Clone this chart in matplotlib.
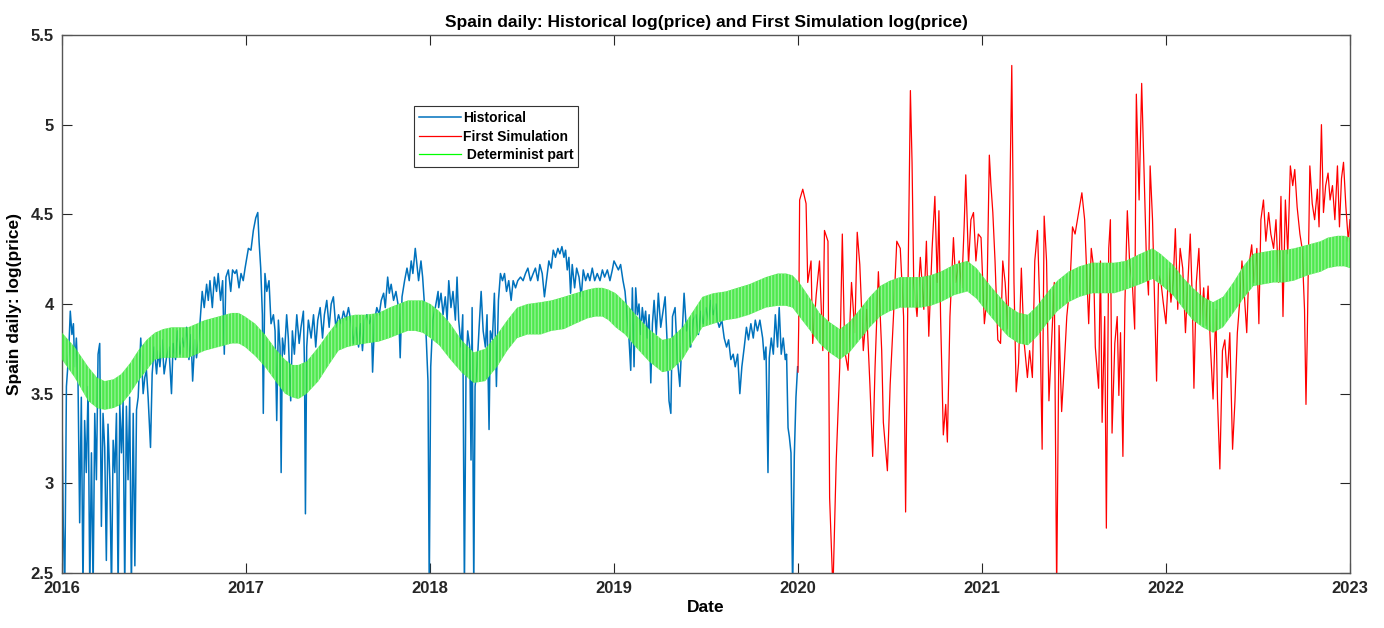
import matplotlib
matplotlib.use("Agg")
import matplotlib.pyplot as plt

plt.rcParams['font.family'] = ['Liberation Sans', 'DejaVu Sans']
plt.rcParams['font.weight'] = 'bold'
plt.rcParams['hatch.color'] = '#a8f5a8'
plt.rcParams['hatch.linewidth'] = 0.7

# Historical log(price) (decimal years)
hist_year = [
    2016.000, 2016.007, 2016.015, 2016.024, 2016.036, 2016.045, 2016.054, 2016.062, 2016.069, 2016.078,
    2016.087, 2016.096, 2016.105, 2016.114, 2016.123, 2016.132, 2016.142, 2016.151, 2016.160, 2016.169,
    2016.178, 2016.187, 2016.196, 2016.205, 2016.214, 2016.223, 2016.232, 2016.241, 2016.250, 2016.260,
    2016.269, 2016.278, 2016.287, 2016.296, 2016.305, 2016.314, 2016.323, 2016.332, 2016.341, 2016.350,
    2016.359, 2016.368, 2016.377, 2016.387, 2016.396, 2016.405, 2016.414, 2016.428, 2016.441, 2016.450,
    2016.459, 2016.468, 2016.481, 2016.490, 2016.501, 2016.514, 2016.523, 2016.532, 2016.544, 2016.555,
    2016.568, 2016.581, 2016.595, 2016.604, 2016.617, 2016.628, 2016.641, 2016.653, 2016.664, 2016.677,
    2016.690, 2016.701, 2016.710, 2016.722, 2016.731, 2016.744, 2016.753, 2016.762, 2016.773, 2016.786,
    2016.795, 2016.804, 2016.817, 2016.828, 2016.840, 2016.849, 2016.862, 2016.873, 2016.882, 2016.891,
    2016.904, 2016.917, 2016.927, 2016.940, 2016.949, 2016.962, 2016.973, 2016.985, 2016.995,
    2017.013, 2017.027, 2017.040, 2017.053, 2017.064, 2017.071, 2017.080, 2017.089, 2017.094, 2017.103,
    2017.113, 2017.125, 2017.136, 2017.149, 2017.158, 2017.167, 2017.176, 2017.185, 2017.191, 2017.198,
    2017.209, 2017.221, 2017.230, 2017.243, 2017.252, 2017.263, 2017.276, 2017.289, 2017.299, 2017.312,
    2017.318, 2017.323, 2017.330, 2017.339, 2017.354, 2017.367, 2017.379, 2017.390, 2017.403, 2017.416,
    2017.426, 2017.439, 2017.452, 2017.463, 2017.475, 2017.488, 2017.503, 2017.517, 2017.530, 2017.543,
    2017.557, 2017.572, 2017.584, 2017.597, 2017.612, 2017.623, 2017.633, 2017.644, 2017.657, 2017.670,
    2017.681, 2017.688, 2017.699, 2017.711, 2017.724, 2017.735, 2017.748, 2017.757, 2017.770, 2017.779,
    2017.789, 2017.802, 2017.815, 2017.829, 2017.838, 2017.848, 2017.862, 2017.875, 2017.887, 2017.898,
    2017.907, 2017.920, 2017.929, 2017.938, 2017.951, 2017.960, 2017.971, 2017.980, 2017.989, 2017.996,
    2018.004, 2018.015, 2018.029, 2018.044, 2018.047, 2018.060, 2018.071, 2018.083, 2018.093, 2018.102,
    2018.114, 2018.125, 2018.138, 2018.147, 2018.156, 2018.169, 2018.178, 2018.187, 2018.196, 2018.205,
    2018.216, 2018.223, 2018.229, 2018.238, 2018.245, 2018.256, 2018.267, 2018.278, 2018.289, 2018.301,
    2018.310, 2018.321, 2018.328, 2018.339, 2018.350, 2018.361, 2018.372, 2018.383, 2018.394, 2018.405,
    2018.416, 2018.428, 2018.441, 2018.452, 2018.465, 2018.477, 2018.492, 2018.506, 2018.519, 2018.532,
    2018.546, 2018.561, 2018.573, 2018.586, 2018.597, 2018.610, 2018.622, 2018.633, 2018.646, 2018.659,
    2018.670, 2018.682, 2018.695, 2018.706, 2018.717, 2018.728, 2018.737, 2018.746, 2018.755, 2018.764,
    2018.773, 2018.786, 2018.797, 2018.810, 2018.822, 2018.833, 2018.846, 2018.858, 2018.869, 2018.882,
    2018.895, 2018.909, 2018.924, 2018.937, 2018.949, 2018.964, 2018.978, 2018.991, 2019.000,
    2019.024, 2019.036, 2019.049, 2019.060, 2019.073, 2019.082, 2019.091, 2019.100, 2019.109, 2019.118,
    2019.127, 2019.136, 2019.145, 2019.154, 2019.163, 2019.172, 2019.181, 2019.191, 2019.200, 2019.209,
    2019.218, 2019.230, 2019.241, 2019.254, 2019.267, 2019.278, 2019.290, 2019.299, 2019.309, 2019.318,
    2019.332, 2019.345, 2019.358, 2019.369, 2019.381, 2019.394, 2019.405, 2019.417, 2019.430, 2019.445,
    2019.459, 2019.472, 2019.485, 2019.499, 2019.514, 2019.526, 2019.539, 2019.554, 2019.562, 2019.572,
    2019.586, 2019.599, 2019.612, 2019.623, 2019.635, 2019.648, 2019.659, 2019.672, 2019.684, 2019.695,
    2019.708, 2019.720, 2019.731, 2019.744, 2019.757, 2019.768, 2019.780, 2019.793, 2019.808, 2019.817,
    2019.826, 2019.837, 2019.844, 2019.855, 2019.866, 2019.877, 2019.889, 2019.898, 2019.909, 2019.920,
    2019.931, 2019.938, 2019.946, 2019.953, 2019.962, 2019.971, 2019.980, 2019.989, 2019.998,
]
hist_logp = [
    3.41, 2.76, 2.40, 3.54, 3.72, 3.96, 3.83, 3.89, 3.65, 3.81,
    3.57, 2.78, 3.48, 2.40, 3.35, 3.06, 3.54, 2.40, 3.17, 2.40,
    3.39, 3.02, 3.72, 3.78, 2.76, 3.39, 3.20, 2.57, 3.33, 3.02,
    2.40, 3.24, 3.06, 3.39, 2.40, 3.44, 3.17, 3.46, 2.40, 3.43,
    3.02, 3.48, 2.40, 3.39, 2.54, 3.41, 3.48, 3.81, 3.50, 3.59,
    3.63, 3.48, 3.20, 3.61, 3.76, 3.61, 3.74, 3.65, 3.80, 3.61,
    3.70, 3.76, 3.50, 3.78, 3.69, 3.85, 3.72, 3.81, 3.76, 3.87,
    3.69, 3.83, 3.57, 3.80, 3.70, 3.81, 3.94, 4.07, 3.98, 4.11,
    4.02, 4.13, 3.98, 4.15, 4.07, 4.17, 4.02, 4.13, 3.72, 4.15,
    4.19, 4.07, 4.19, 4.17, 4.19, 4.09, 4.17, 4.13, 4.20,
    4.31, 4.30, 4.41, 4.48, 4.51, 4.35, 4.20, 3.94, 3.39, 4.17,
    4.07, 4.13, 3.89, 3.94, 3.85, 3.35, 3.91, 3.76, 3.06, 3.81,
    3.72, 3.94, 3.81, 3.46, 3.85, 3.72, 3.94, 3.78, 3.87, 3.96,
    3.65, 2.83, 3.76, 3.91, 3.81, 3.94, 3.76, 3.91, 3.98, 3.81,
    3.94, 4.02, 3.87, 4.00, 4.04, 3.87, 3.94, 3.89, 3.96, 3.91,
    3.98, 3.89, 3.78, 3.87, 3.76, 3.89, 3.74, 3.91, 3.94, 3.89,
    3.93, 3.62, 3.91, 3.98, 3.94, 4.02, 4.06, 3.98, 4.15, 4.06,
    4.11, 4.02, 4.07, 3.98, 3.70, 4.04, 4.13, 4.20, 4.13, 4.24,
    4.17, 4.31, 4.22, 4.13, 4.24, 4.15, 3.98, 3.80, 3.57, 2.40,
    3.65, 3.91, 3.98, 4.07, 3.98, 4.06, 3.94, 4.04, 3.91, 4.13,
    3.98, 4.07, 3.91, 4.15, 3.91, 3.76, 3.94, 2.40, 3.65, 3.85,
    3.76, 3.13, 3.98, 2.40, 3.54, 3.65, 3.87, 4.07, 3.85, 3.76,
    3.94, 3.30, 3.85, 3.80, 4.06, 3.54, 4.02, 4.17, 4.13, 4.17,
    4.07, 4.13, 4.02, 4.13, 4.09, 4.13, 4.15, 4.13, 4.17, 4.20,
    4.13, 4.17, 4.20, 4.13, 4.22, 4.17, 4.04, 4.13, 4.24, 4.20,
    4.30, 4.26, 4.31, 4.28, 4.32, 4.26, 4.30, 4.19, 4.26, 4.06,
    4.22, 4.09, 4.20, 4.15, 4.04, 4.19, 4.13, 4.17, 4.13, 4.20,
    4.13, 4.17, 4.13, 4.19, 4.15, 4.19, 4.13, 4.19, 4.24,
    4.19, 4.22, 4.13, 4.07, 3.91, 3.80, 3.63, 4.09, 3.65, 4.09,
    3.94, 4.00, 3.83, 3.98, 3.89, 3.96, 3.81, 3.94, 3.56, 3.89,
    4.02, 3.83, 4.06, 3.87, 3.96, 4.04, 3.76, 3.46, 3.39, 3.93,
    3.98, 3.69, 3.54, 3.80, 4.06, 3.85, 3.91, 3.76, 3.91, 3.94,
    3.83, 3.96, 3.89, 3.98, 3.91, 4.02, 3.94, 4.00, 3.91, 3.87,
    3.91, 3.81, 3.76, 3.80, 3.69, 3.72, 3.65, 3.72, 3.50, 3.65,
    3.76, 3.87, 3.80, 3.89, 3.81, 3.91, 3.85, 3.91, 3.81, 3.69,
    3.76, 3.06, 3.70, 3.81, 3.72, 3.94, 3.76, 3.98, 3.72, 3.81,
    3.69, 3.72, 3.31, 3.26, 3.17, 2.40, 3.15, 3.48, 3.65,
]

# First simulation log(price)
sim_year = [
    2020.000, 2020.004, 2020.009, 2020.026, 2020.044, 2020.053, 2020.071, 2020.080, 2020.099, 2020.117,
    2020.135, 2020.144, 2020.163, 2020.172, 2020.190, 2020.208, 2020.227, 2020.241, 2020.254, 2020.272,
    2020.291, 2020.309, 2020.322, 2020.336, 2020.355, 2020.373, 2020.391, 2020.406, 2020.419, 2020.437,
    2020.455, 2020.464, 2020.486, 2020.501, 2020.519, 2020.537, 2020.556, 2020.574, 2020.585, 2020.596,
    2020.611, 2020.620, 2020.629, 2020.647, 2020.665, 2020.684, 2020.698, 2020.711, 2020.729, 2020.744,
    2020.757, 2020.766, 2020.775, 2020.790, 2020.803, 2020.812, 2020.826, 2020.845, 2020.857, 2020.876,
    2020.890, 2020.903, 2020.912, 2020.927, 2020.940, 2020.954, 2020.967, 2020.980, 2020.995, 2021.013,
    2021.027, 2021.040, 2021.049, 2021.059, 2021.071, 2021.086, 2021.101, 2021.113, 2021.126, 2021.141,
    2021.162, 2021.174, 2021.186, 2021.199, 2021.214, 2021.228, 2021.247, 2021.259, 2021.274, 2021.287,
    2021.302, 2021.314, 2021.327, 2021.338, 2021.351, 2021.364, 2021.378, 2021.393, 2021.406, 2021.419,
    2021.433, 2021.448, 2021.461, 2021.479, 2021.492, 2021.506, 2021.525, 2021.543, 2021.558,
    2021.580, 2021.594, 2021.607, 2021.616, 2021.634, 2021.644, 2021.653, 2021.667, 2021.676, 2021.689,
    2021.698, 2021.707, 2021.722, 2021.735, 2021.744, 2021.753, 2021.766, 2021.777, 2021.790, 2021.803,
    2021.817, 2021.830, 2021.839, 2021.854, 2021.868, 2021.881, 2021.894, 2021.905, 2021.914, 2021.927,
    2021.938, 2021.949, 2021.960, 2021.973, 2021.985, 2022.000, 2022.015, 2022.027, 2022.040, 2022.051,
    2022.064, 2022.077, 2022.091, 2022.106, 2022.119, 2022.132, 2022.143, 2022.152, 2022.165, 2022.179,
    2022.192, 2022.205, 2022.216, 2022.229, 2022.241, 2022.256, 2022.271, 2022.280, 2022.293, 2022.307,
    2022.320, 2022.333, 2022.347, 2022.362, 2022.375, 2022.388, 2022.402, 2022.413, 2022.426, 2022.439,
    2022.452, 2022.466, 2022.479, 2022.494, 2022.505, 2022.516, 2022.530, 2022.543, 2022.558, 2022.570,
    2022.585, 2022.598, 2022.612, 2022.625, 2022.636, 2022.649, 2022.662, 2022.676, 2022.689, 2022.700,
    2022.713, 2022.728, 2022.740, 2022.753, 2022.761, 2022.768, 2022.782, 2022.795, 2022.808, 2022.823,
    2022.832, 2022.845, 2022.856, 2022.868, 2022.881, 2022.892, 2022.905, 2022.918, 2022.932, 2022.943,
    2022.954, 2022.965, 2022.978, 2022.991, 2023.000,
]
sim_logp = [
    3.62, 3.88, 4.58, 4.64, 4.56, 4.12, 4.24, 3.78, 4.05, 4.24,
    3.74, 4.41, 4.35, 2.92, 2.40, 3.13, 3.65, 4.39, 3.74, 3.63,
    4.12, 3.84, 4.40, 4.22, 3.74, 3.97, 3.55, 3.15, 3.65, 4.18,
    3.74, 3.34, 3.07, 3.55, 3.93, 4.35, 4.31, 3.93, 2.84, 3.93,
    5.19, 4.79, 4.12, 3.93, 4.26, 3.97, 4.35, 3.82, 4.31, 4.60,
    4.12, 4.52, 3.93, 3.27, 3.44, 3.23, 3.93, 4.37, 4.12, 4.24,
    4.09, 4.43, 4.72, 4.22, 4.47, 4.51, 4.24, 4.39, 4.37, 3.89,
    4.03, 4.83, 4.66, 4.51, 4.24, 3.80, 3.78, 4.24, 4.12, 3.86,
    5.33, 4.12, 3.51, 3.67, 4.20, 3.80, 3.59, 3.74, 3.59, 4.24,
    4.41, 3.99, 3.19, 4.49, 4.24, 3.46, 3.78, 4.12, 2.40, 3.88,
    3.40, 3.67, 3.93, 4.12, 4.43, 4.39, 4.51, 4.62, 4.47,
    3.89, 4.31, 4.20, 3.76, 3.53, 4.24, 3.34, 3.93, 2.75, 4.31,
    4.47, 3.28, 3.78, 3.93, 3.49, 3.84, 3.15, 4.01, 4.52, 4.22,
    4.12, 3.86, 5.17, 4.58, 5.23, 4.74, 4.24, 4.05, 4.77, 4.47,
    4.01, 3.57, 4.16, 4.12, 4.01, 3.89, 4.20, 4.01, 4.14, 4.42,
    3.97, 4.31, 4.20, 3.84, 4.12, 4.39, 4.03, 3.53, 4.12, 4.31,
    3.89, 4.09, 3.88, 4.10, 3.78, 3.47, 3.97, 3.47, 3.08, 3.74,
    3.80, 3.59, 3.84, 3.19, 3.46, 3.84, 4.03, 4.24, 4.05, 3.84,
    4.22, 4.33, 4.12, 4.31, 3.89, 4.47, 4.58, 4.35, 4.51, 4.39,
    4.31, 4.47, 4.12, 4.60, 3.93, 4.58, 4.28, 4.77, 4.66, 4.75,
    4.54, 4.39, 4.31, 3.97, 3.44, 3.82, 4.77, 4.56, 4.47, 4.64,
    4.43, 5.00, 4.51, 4.66, 4.73, 4.58, 4.66, 4.47, 4.77, 4.43,
    4.70, 4.79, 4.54, 4.35, 4.47,
]

# Determinist part: upper and lower edge of the weekly band
det_year = [
    2016.000, 2016.069, 2016.142, 2016.190, 2016.232, 2016.280, 2016.323, 2016.370, 2016.414, 2016.460,
    2016.505, 2016.550, 2016.595, 2016.686, 2016.777, 2016.850, 2016.922, 2016.960, 2016.995, 2017.050,
    2017.103, 2017.160, 2017.212, 2017.250, 2017.285, 2017.330, 2017.394, 2017.450, 2017.503, 2017.550,
    2017.593, 2017.650, 2017.721, 2017.780, 2017.829, 2017.880, 2017.920, 2017.960, 2018.002, 2018.050,
    2018.111, 2018.170, 2018.238, 2018.300, 2018.365, 2018.420, 2018.474, 2018.530, 2018.601, 2018.660,
    2018.728, 2018.790, 2018.856, 2018.900, 2018.937, 2018.970, 2019.009, 2019.060, 2019.118, 2019.190,
    2019.263, 2019.310, 2019.372, 2019.430, 2019.481, 2019.540, 2019.608, 2019.670, 2019.735, 2019.780,
    2019.826, 2019.890, 2019.935, 2019.970, 2020.007, 2020.060, 2020.117, 2020.170, 2020.227, 2020.280,
    2020.336, 2020.390, 2020.446, 2020.500, 2020.556, 2020.610, 2020.665, 2020.720, 2020.775, 2020.850,
    2020.921, 2020.970, 2021.031, 2021.080, 2021.141, 2021.200, 2021.250, 2021.300, 2021.360, 2021.410,
    2021.470, 2021.530, 2021.598, 2021.671, 2021.720, 2021.781, 2021.860, 2021.927, 2021.970, 2022.037,
    2022.090, 2022.146, 2022.200, 2022.256, 2022.310, 2022.366, 2022.420, 2022.475, 2022.530, 2022.585,
    2022.640, 2022.695, 2022.770, 2022.841, 2022.880, 2022.932, 2022.970, 2023.000,
]
det_upper = [
    3.84, 3.76, 3.65, 3.59, 3.57, 3.58, 3.61, 3.67, 3.74, 3.80,
    3.84, 3.86, 3.87, 3.87, 3.91, 3.93, 3.95, 3.95, 3.93, 3.89,
    3.83, 3.75, 3.69, 3.66, 3.66, 3.68, 3.76, 3.84, 3.91, 3.93,
    3.94, 3.94, 3.95, 3.98, 4.00, 4.02, 4.02, 4.02, 4.00, 3.96,
    3.89, 3.80, 3.73, 3.75, 3.83, 3.91, 3.98, 4.00, 4.01, 4.02,
    4.04, 4.06, 4.08, 4.09, 4.09, 4.08, 4.06, 4.01, 3.94, 3.86,
    3.80, 3.81, 3.87, 3.96, 4.04, 4.06, 4.07, 4.09, 4.11, 4.13,
    4.15, 4.17, 4.17, 4.16, 4.12, 4.04, 3.95, 3.90, 3.86, 3.90,
    3.97, 4.04, 4.10, 4.13, 4.15, 4.15, 4.15, 4.16, 4.18, 4.22,
    4.24, 4.20, 4.12, 4.06, 3.99, 3.95, 3.94, 3.99, 4.07, 4.13,
    4.18, 4.21, 4.23, 4.23, 4.23, 4.24, 4.28, 4.31, 4.28, 4.22,
    4.15, 4.09, 4.04, 4.01, 4.04, 4.12, 4.21, 4.28, 4.29, 4.30,
    4.30, 4.31, 4.33, 4.35, 4.37, 4.38, 4.38, 4.37,
]
det_lower = [
    3.69, 3.59, 3.46, 3.42, 3.41, 3.42, 3.44, 3.50, 3.57, 3.63,
    3.69, 3.70, 3.70, 3.70, 3.74, 3.76, 3.78, 3.78, 3.76, 3.71,
    3.65, 3.57, 3.50, 3.48, 3.47, 3.50, 3.57, 3.66, 3.74, 3.76,
    3.77, 3.78, 3.79, 3.81, 3.83, 3.85, 3.85, 3.84, 3.81, 3.77,
    3.69, 3.62, 3.56, 3.57, 3.65, 3.74, 3.81, 3.83, 3.83, 3.85,
    3.86, 3.89, 3.92, 3.93, 3.93, 3.91, 3.87, 3.83, 3.76, 3.68,
    3.62, 3.63, 3.69, 3.79, 3.87, 3.89, 3.91, 3.92, 3.94, 3.96,
    3.98, 3.99, 3.99, 3.98, 3.93, 3.86, 3.78, 3.73, 3.69, 3.73,
    3.80, 3.87, 3.93, 3.96, 3.98, 3.98, 3.98, 3.99, 4.01, 4.05,
    4.07, 4.03, 3.95, 3.89, 3.82, 3.78, 3.77, 3.82, 3.90, 3.96,
    4.01, 4.04, 4.06, 4.06, 4.06, 4.08, 4.11, 4.14, 4.11, 4.05,
    3.98, 3.91, 3.87, 3.84, 3.87, 3.95, 4.03, 4.10, 4.11, 4.12,
    4.12, 4.13, 4.16, 4.18, 4.20, 4.21, 4.21, 4.20,
]

year_ticks = [2016, 2017, 2018, 2019, 2020, 2021, 2022, 2023]
logp_ticks = [2.5, 3, 3.5, 4, 4.5, 5, 5.5]
logp_tick_labels = ['2.5', '3', '3.5', '4', '4.5', '5', '5.5']

fig = plt.figure(figsize=(13.84, 6.28), dpi=100)
ax = fig.add_axes([0.0448, 0.0876, 0.9306, 0.8567])

ax.plot(hist_year, hist_logp, color='#0072BD', lw=1.1, label='Historical', zorder=2)
ax.plot(sim_year, sim_logp, color='#FF0000', lw=0.9, label='First Simulation', zorder=2)
ax.fill_between(det_year, det_lower, det_upper, facecolor='#2fe62f', hatch='|||||',
                linewidth=0, alpha=0.85, zorder=3)
# legend entry for the band
ax.plot([], [], color='#00FF00', lw=0.9, label=' Determinist part')

ax.set_xlim(2016, 2023)
ax.set_ylim(2.5, 5.5)
ax.set_xticks(year_ticks)
ax.set_xticklabels([str(y) for y in year_ticks])
ax.set_yticks(logp_ticks)
ax.set_yticklabels(logp_tick_labels)
ax.tick_params(direction='in', length=7, width=0.8, top=True, right=True,
               labelsize=12, colors='#262626', pad=6)
for lab in ax.get_xticklabels() + ax.get_yticklabels():
    lab.set_fontweight('bold')
for sp in ax.spines.values():
    sp.set_color('#555555')
    sp.set_linewidth(1.0)

ax.set_title('Spain daily: Historical log(price) and First Simulation log(price)',
             fontsize=12.5, fontweight='bold', pad=6)
ax.set_xlabel('Date', fontsize=12.5, fontweight='bold', labelpad=3)
ax.set_ylabel('Spain daily: log(price)', fontsize=12.5, fontweight='bold', labelpad=6)

leg = ax.legend(loc='upper left', bbox_to_anchor=(0.268, 0.88), fontsize=10,
                handlelength=3.0, handletextpad=0.15, borderpad=0.35, labelspacing=0.3,
                fancybox=False, framealpha=1, edgecolor='#333333')
leg.get_frame().set_linewidth(0.8)
for t in leg.get_texts():
    t.set_fontweight('bold')

fig.savefig('out.png', dpi=100)
